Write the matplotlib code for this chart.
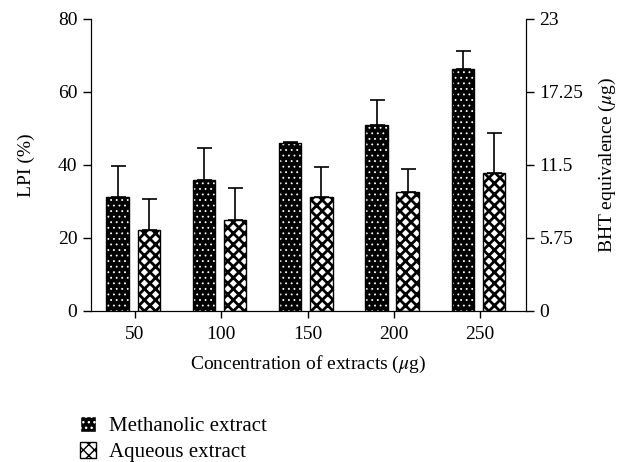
import numpy as np
import matplotlib
matplotlib.use('Agg')
from matplotlib import pyplot as plt
from matplotlib.patches import Patch

plt.rcParams['font.family'] = ['Liberation Serif', 'DejaVu Serif']
plt.rcParams['mathtext.fontset'] = 'stix'

concentrations = ['50', '100', '150', '200', '250']
methanolic = [31.2, 36.0, 46.0, 51.0, 66.3]
methanolic_err = [8.4, 8.6, 0.3, 6.8, 5.0]
aqueous = [22.2, 25.0, 31.2, 32.6, 37.7]
aqueous_err = [8.4, 8.6, 8.3, 6.3, 11.0]

fs = 14

fig = plt.figure(figsize=(6.23, 4.62), dpi=100)
ax = fig.add_axes([0.146, 0.327, 0.698, 0.632])

x = np.arange(len(concentrations))
w = 0.26

# methanolic: black with small white dots
with plt.rc_context({'hatch.linewidth': 0.6}):
    ax.bar(x - 0.2, methanolic, w, color='black', edgecolor='white', hatch='...', linewidth=0, zorder=2)
    meth_patch = Patch(facecolor='black', edgecolor='white', hatch='...', label='Methanolic extract')
ax.bar(x - 0.2, methanolic, w, fill=False, edgecolor='black', linewidth=1, zorder=3)
ax.errorbar(x - 0.2, methanolic, yerr=[np.zeros(5), methanolic_err], fmt='none',
            ecolor='black', elinewidth=1.2, capsize=5.4, capthick=1.2, zorder=1)

# aqueous: white with black diamonds
with plt.rc_context({'hatch.linewidth': 2.0}):
    ax.bar(x + 0.16, aqueous, w, color='white', edgecolor='black', hatch='xxx', linewidth=1, zorder=2)
    aq_patch = Patch(facecolor='white', edgecolor='black', hatch='xxx', label='Aqueous extract')
ax.errorbar(x + 0.16, aqueous, yerr=[np.zeros(5), aqueous_err], fmt='none',
            ecolor='black', elinewidth=1.2, capsize=5.4, capthick=1.2, zorder=1)

ax.set_xlim(-0.51, 4.53)
ax.set_ylim(0, 80)
ax.set_xticks(x)
ax.set_xticklabels(concentrations)
ax.set_yticks([0, 20, 40, 60, 80])
ax.spines['top'].set_visible(False)
ax.tick_params(axis='y', direction='out', length=5.8, width=1, labelsize=fs, pad=4)
ax.tick_params(axis='x', direction='out', length=5, width=1, labelsize=fs, pad=6)
ax.set_ylabel('LPI (%)', fontsize=fs, labelpad=16)
ax.set_xlabel(r'Concentration of extracts ($\mathit{\mu}$g)', fontsize=fs, labelpad=8)

ax2 = ax.twinx()
ax2.set_ylim(0, 23)
ax2.set_yticks([0, 5.75, 11.5, 17.25, 23])
ax2.set_yticklabels(['0', '5.75', '11.5', '17.25', '23'])
ax2.spines['top'].set_visible(False)
ax2.tick_params(direction='out', length=5.8, width=1, labelsize=fs, pad=4)
ax2.set_ylabel(r'BHT equivalence ($\mathit{\mu}$g)', fontsize=fs, labelpad=10)

fig.legend(handles=[meth_patch, aq_patch], loc='upper left', bbox_to_anchor=(0.128, 0.1),
           frameon=False, fontsize=fs + 1, handlelength=0.8, handleheight=0.8,
           handletextpad=0.6, labelspacing=0.3, borderaxespad=0, borderpad=0)

fig.savefig('out.png', dpi=100)
